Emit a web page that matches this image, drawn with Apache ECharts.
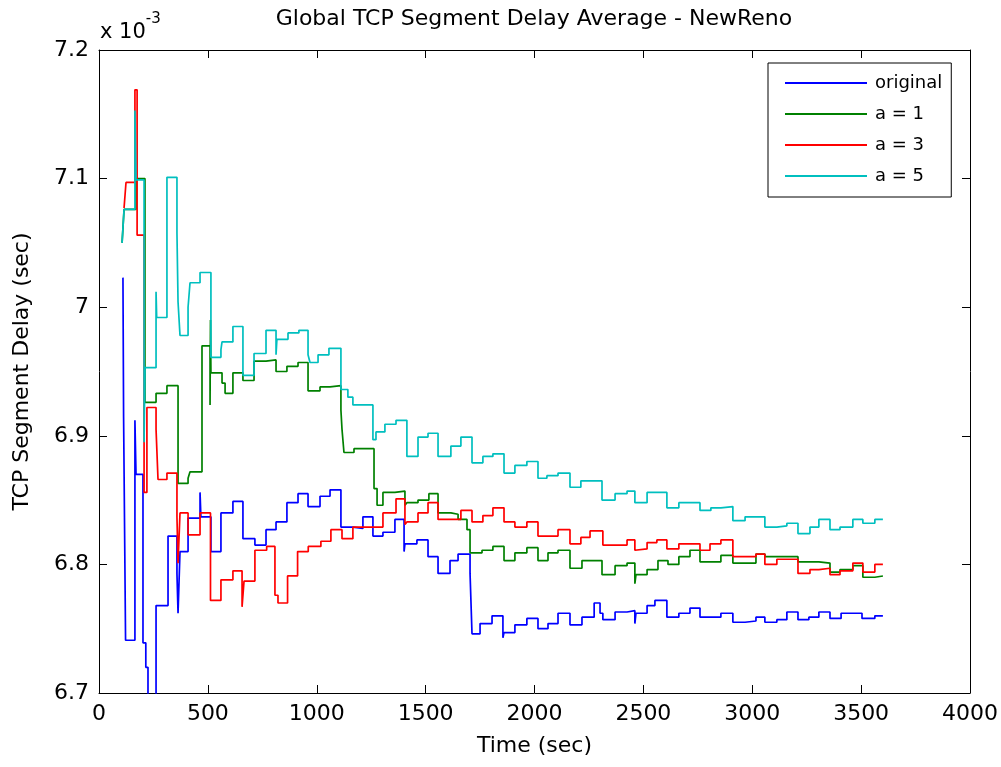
<!DOCTYPE html>
<html>
<head>
<meta charset="utf-8">
<title>Global TCP Segment Delay Average - NewReno</title>
<script src="https://cdn.jsdelivr.net/npm/echarts@6.0.0/dist/echarts.min.js"></script>
<style>
  html, body { margin: 0; padding: 0; background: #fff; }
  #chart { width: 1001px; height: 767px; }
</style>
</head>
<body>
<div id="chart"></div>
<script>
// [time (sec), delay (x 1e-3 sec)] - each value holds until the next time
var original = [
  [110, 7.023], [113, 6.914], [122, 6.741], [165, 6.912], [170, 6.870],
  [202, 6.739], [215, 6.720], [225, 6.690], [262, 6.768], [317, 6.822],
  [358, 6.793], [363, 6.762], [372, 6.810], [409, 6.836], [464, 6.856],
  [468, 6.837], [514, 6.810], [560, 6.840], [615, 6.849], [661, 6.820],
  [716, 6.815], [767, 6.827], [813, 6.833], [863, 6.848], [914, 6.855],
  [960, 6.845], [1015, 6.853], [1061, 6.858], [1111, 6.829], [1166, 6.828],
  [1212, 6.837], [1258, 6.822], [1304, 6.825], [1359, 6.835], [1401, 6.810],
  [1405, 6.816], [1460, 6.819], [1511, 6.806], [1557, 6.793], [1612, 6.803],
  [1649, 6.808], [1704, 6.793], [1713, 6.746], [1750, 6.754], [1805, 6.760],
  [1855, 6.743], [1860, 6.747], [1910, 6.753], [1965, 6.758], [2016, 6.750],
  [2062, 6.754], [2108, 6.762], [2163, 6.753], [2218, 6.759], [2274, 6.770],
  [2301, 6.762], [2314, 6.757], [2370, 6.763], [2425, 6.764], [2461, 6.754],
  [2466, 6.762], [2517, 6.768], [2553, 6.772], [2608, 6.759], [2663, 6.762],
  [2714, 6.766], [2760, 6.759], [2856, 6.762], [2911, 6.755], [2967, 6.756],
  [3017, 6.759], [3058, 6.755], [3113, 6.757], [3159, 6.763], [3210, 6.757],
  [3260, 6.759], [3306, 6.763], [3357, 6.758], [3408, 6.762], [3504, 6.758],
  [3563, 6.760], [3600, 6.760]
];

var a1 = [
  [106, 7.050], [115, 7.076], [170, 7.100], [211, 6.926], [262, 6.933],
  [312, 6.939], [363, 6.863], [409, 6.867], [418, 6.872], [473, 6.970],
  [510, 6.924], [512, 6.990], [514, 6.949], [565, 6.941], [579, 6.933],
  [615, 6.949], [661, 6.943], [712, 6.958], [767, 6.959], [813, 6.950],
  [863, 6.954], [914, 6.957], [960, 6.935], [1015, 6.938], [1061, 6.939],
  [1111, 6.920], [1116, 6.905], [1125, 6.887], [1171, 6.890], [1263, 6.859],
  [1277, 6.846], [1304, 6.856], [1359, 6.857], [1405, 6.846], [1414, 6.848],
  [1465, 6.850], [1515, 6.855], [1557, 6.840], [1616, 6.839], [1649, 6.835],
  [1690, 6.827], [1704, 6.809], [1759, 6.811], [1809, 6.814], [1860, 6.803],
  [1910, 6.809], [1965, 6.813], [2016, 6.803], [2062, 6.809], [2108, 6.811],
  [2163, 6.797], [2218, 6.803], [2310, 6.792], [2370, 6.799], [2425, 6.801],
  [2461, 6.785], [2466, 6.792], [2517, 6.796], [2567, 6.803], [2613, 6.800],
  [2663, 6.806], [2714, 6.811], [2760, 6.802], [2856, 6.807], [2911, 6.801],
  [3017, 6.808], [3058, 6.806], [3210, 6.802], [3306, 6.801], [3357, 6.794],
  [3403, 6.796], [3462, 6.799], [3508, 6.790], [3563, 6.791], [3600, 6.791]
];

var a3 = [
  [115, 7.077], [124, 7.097], [165, 7.169], [175, 7.056], [207, 6.856],
  [220, 6.922], [262, 6.905], [271, 6.866], [312, 6.871], [358, 6.837],
  [363, 6.801], [372, 6.840], [409, 6.823], [464, 6.840], [512, 6.772],
  [560, 6.788], [615, 6.795], [657, 6.767], [666, 6.787], [716, 6.811],
  [770, 6.814], [808, 6.776], [822, 6.770], [866, 6.791], [912, 6.810],
  [961, 6.814], [1019, 6.818], [1065, 6.827], [1116, 6.820], [1166, 6.829],
  [1304, 6.840], [1364, 6.851], [1405, 6.831], [1414, 6.833], [1465, 6.840],
  [1511, 6.848], [1557, 6.835], [1662, 6.842], [1713, 6.833], [1763, 6.838],
  [1809, 6.844], [1860, 6.833], [1910, 6.829], [1965, 6.833], [2016, 6.822],
  [2108, 6.827], [2163, 6.816], [2213, 6.821], [2255, 6.826], [2314, 6.815],
  [2425, 6.819], [2461, 6.811], [2466, 6.812], [2517, 6.817], [2562, 6.819],
  [2608, 6.812], [2663, 6.816], [2760, 6.811], [2806, 6.816], [2856, 6.819],
  [2911, 6.806], [3017, 6.808], [3058, 6.800], [3113, 6.804], [3210, 6.793],
  [3265, 6.796], [3306, 6.797], [3357, 6.792], [3403, 6.795], [3462, 6.801],
  [3508, 6.794], [3563, 6.800], [3600, 6.800]
];

var a5 = [
  [106, 7.050], [115, 7.076], [165, 7.153], [170, 7.099], [207, 6.895],
  [211, 6.953], [262, 7.012], [265, 6.992], [312, 7.101], [358, 7.058],
  [363, 7.004], [372, 6.978], [409, 7.000], [418, 7.019], [464, 7.027],
  [514, 6.961], [560, 6.967], [565, 6.973], [615, 6.985], [661, 6.947],
  [712, 6.964], [767, 6.982], [813, 6.963], [817, 6.975], [868, 6.980],
  [918, 6.982], [960, 6.963], [969, 6.957], [1006, 6.963], [1056, 6.968],
  [1111, 6.936], [1143, 6.930], [1166, 6.924], [1258, 6.897], [1272, 6.903],
  [1313, 6.909], [1364, 6.912], [1414, 6.884], [1465, 6.899], [1511, 6.902],
  [1557, 6.884], [1616, 6.892], [1662, 6.899], [1713, 6.879], [1763, 6.884],
  [1809, 6.886], [1860, 6.871], [1910, 6.877], [1965, 6.880], [2016, 6.867],
  [2057, 6.869], [2108, 6.871], [2163, 6.860], [2213, 6.865], [2310, 6.850],
  [2370, 6.855], [2425, 6.857], [2461, 6.848], [2517, 6.856], [2608, 6.844],
  [2663, 6.848], [2760, 6.842], [2810, 6.844], [2856, 6.845], [2911, 6.834],
  [2967, 6.837], [3058, 6.829], [3113, 6.830], [3159, 6.832], [3210, 6.824],
  [3265, 6.829], [3306, 6.835], [3357, 6.827], [3403, 6.829], [3462, 6.835],
  [3508, 6.832], [3563, 6.835], [3600, 6.835]
];

var seriesNames = ['original', 'a = 1', 'a = 3', 'a = 5'];
var seriesData = [original, a1, a3, a5];
var seriesColors = ['#0000ff', '#008000', '#ff0000', '#00bfbf'];

var font = 'DejaVu Sans';

function axisCommon(pos, showLabel) {
    return {
        type: 'value',
        position: pos,
        axisLine: { show: true, onZero: false, lineStyle: { color: '#000', width: 1 } },
        axisTick: { show: true, inside: true, length: 8, lineStyle: { color: '#000' } },
        axisLabel: {
            show: showLabel, color: '#000', fontSize: 22, fontFamily: font, margin: 10,
            formatter: function (v) { return String(+v.toFixed(3)); }
        },
        splitLine: { show: false }
    };
}

var xBottom = axisCommon('bottom', true);
xBottom.min = 0; xBottom.max = 4000; xBottom.interval = 500;
xBottom.name = 'Time (sec)';
xBottom.nameLocation = 'middle';
xBottom.nameGap = 42;
xBottom.nameTextStyle = { color: '#000', fontSize: 22, fontFamily: font };
var xTop = axisCommon('top', false);
xTop.min = 0; xTop.max = 4000; xTop.interval = 500;

var yLeft = axisCommon('left', true);
yLeft.min = 6.7; yLeft.max = 7.2; yLeft.interval = 0.1;
yLeft.name = 'TCP Segment Delay (sec)';
yLeft.nameLocation = 'middle';
yLeft.nameGap = 66;
yLeft.nameTextStyle = { color: '#000', fontSize: 22, fontFamily: font };
var yRight = axisCommon('right', false);
yRight.min = 6.7; yRight.max = 7.2; yRight.interval = 0.1;

var series = seriesData.map(function (d, i) {
    return {
        name: seriesNames[i],
        type: 'line',
        step: 'end',
        data: d,
        showSymbol: false,
        symbol: 'none',
        color: seriesColors[i],
        lineStyle: { width: 1.7, color: seriesColors[i] },
        clip: true
    };
});

var chart = echarts.init(document.getElementById('chart'));
chart.setOption({
    animation: false,
    backgroundColor: '#fff',
    textStyle: { fontFamily: font },
    grid: { left: 99, right: 31, top: 50, bottom: 74, containLabel: false, outerBoundsMode: 'none' },
    xAxis: [xBottom, xTop],
    yAxis: [yLeft, yRight],
    legend: {
        data: seriesNames,
        orient: 'vertical',
        left: 768,
        top: 63,
        icon: 'rect',
        itemWidth: 82,
        itemHeight: 2,
        itemGap: 13,
        padding: [11, 9, 12, 17],
        borderColor: '#000',
        borderWidth: 1,
        backgroundColor: '#fff',
        textStyle: { color: '#000', fontSize: 18, fontFamily: font, padding: [0, 0, 0, 3] }
    },
    graphic: [
        {
            type: 'text', x: 534, y: 8,
            style: { text: 'Global TCP Segment Delay Average - NewReno', fill: '#000',
                     font: '22px "DejaVu Sans"', textAlign: 'center' }
        },
        {
            type: 'text', x: 100, y: 12,
            style: {
                text: '{a|x 10}{b|-3}',
                rich: {
                    a: { fontSize: 21, fontFamily: font, fill: '#000', color: '#000', verticalAlign: 'bottom', padding: [10, 0, 0, 0] },
                    b: { fontSize: 15, fontFamily: font, fill: '#000', color: '#000', verticalAlign: 'top' }
                }
            }
        }
    ],
    series: series
});
</script>
</body>
</html>
